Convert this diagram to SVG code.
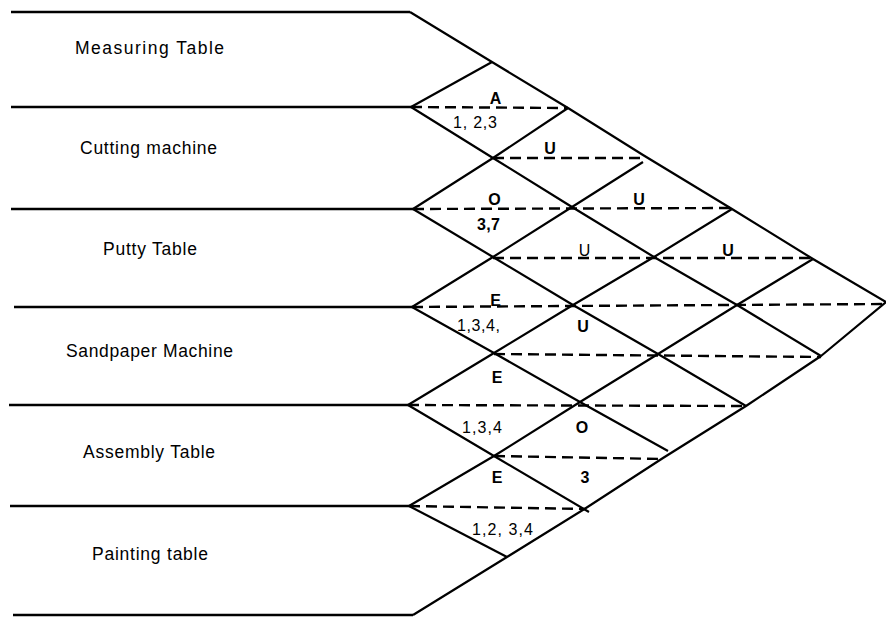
<svg xmlns="http://www.w3.org/2000/svg" width="886" height="617" viewBox="0 0 886 617">
  <style>
    .bar { stroke: #000; stroke-width: 2.6; fill: none; }
    .edge { stroke: #000; stroke-width: 2.2; fill: none; stroke-linejoin: round; }
    .dash { stroke: #000; stroke-width: 2.4; fill: none; stroke-dasharray: 11 6; }
    .dept { font-family: "Liberation Sans", Arial, sans-serif; font-size: 17.5px; fill: #000; text-anchor: middle; }
    .code { font-family: "Liberation Sans", Arial, sans-serif; font-size: 16px; font-weight: bold; fill: #000; text-anchor: middle; }
    .code.plain { font-weight: normal; }
    .why { font-family: "Liberation Sans", Arial, sans-serif; font-size: 16px; fill: #000; text-anchor: middle; }
    .why.b { font-weight: bold; }
  </style>

  <rect width="886" height="617" fill="#fff"/>

  <!-- department rows: separator bars and names -->
  <g id="dept-measuring">
    <line class="bar" x1="11" y1="12" x2="410" y2="12"/>
    <text class="dept" x="149.5" y="53.5" textLength="149" lengthAdjust="spacing">Measuring Table</text>
  </g>
  <g id="dept-cutting">
    <line class="bar" x1="11" y1="107" x2="411" y2="107"/>
    <text class="dept" x="148.5" y="154" textLength="137" lengthAdjust="spacing">Cutting machine</text>
  </g>
  <g id="dept-putty">
    <line class="bar" x1="11" y1="209" x2="413" y2="209"/>
    <text class="dept" x="150" y="255" textLength="94" lengthAdjust="spacing">Putty Table</text>
  </g>
  <g id="dept-sandpaper">
    <line class="bar" x1="14" y1="307" x2="412" y2="307"/>
    <text class="dept" x="149.5" y="357" textLength="167" lengthAdjust="spacing">Sandpaper Machine</text>
  </g>
  <g id="dept-assembly">
    <line class="bar" x1="9" y1="405" x2="408" y2="405"/>
    <text class="dept" x="149" y="458" textLength="132" lengthAdjust="spacing">Assembly Table</text>
  </g>
  <g id="dept-painting">
    <line class="bar" x1="10" y1="506" x2="409" y2="506"/>
    <text class="dept" x="150" y="560" textLength="116" lengthAdjust="spacing">Painting table</text>
    <line class="bar" x1="13" y1="615" x2="413" y2="615"/>
  </g>

  <!-- relationship grid -->
  <g id="connectors">
    <!-- down-right diagonals -->
    <polyline class="edge" points="410,12 492,62 568,108 643,155 732,209 813,259 886,302"/>
    <polyline class="edge" points="411,107 493,158 572,207 654,257 737,305 821,356"/>
    <polyline class="edge" points="413,209 493,257 573,305 658,354 746,406"/>
    <polyline class="edge" points="412,307 494,353 580,402 668,451"/>
    <polyline class="edge" points="408,405 494,456 589,512"/>
    <polyline class="edge" points="409,506 507,557"/>
    <!-- up-right diagonals -->
    <polyline class="edge" points="411,107 492,62"/>
    <polyline class="edge" points="413,209 493,158 568,108"/>
    <polyline class="edge" points="412,307 493,257 572,207 643,162"/>
    <polyline class="edge" points="408,405 494,353 573,305 654,257 732,209"/>
    <polyline class="edge" points="409,506 494,456 580,402 658,354 737,305 813,259"/>
    <polyline class="edge" points="413,615 507,557 586,508 663,458 746,406 821,356 886,302"/>
    <!-- dashed splits between rating and reason -->
    <line class="dash" x1="411" y1="107" x2="568" y2="108"/>
    <line class="dash" x1="493" y1="158" x2="641" y2="158"/>
    <line class="dash" x1="413" y1="209" x2="731" y2="208"/>
    <line class="dash" x1="493" y1="258" x2="811" y2="258"/>
    <line class="dash" x1="412" y1="307" x2="886" y2="304"/>
    <line class="dash" x1="494" y1="354" x2="821" y2="357"/>
    <line class="dash" x1="408" y1="405" x2="747" y2="406"/>
    <line class="dash" x1="494" y1="456" x2="663" y2="459"/>
    <line class="dash" x1="409" y1="506" x2="586" y2="509"/>
  </g>

  <!-- closeness ratings and reason codes -->
  <g id="ratings">
    <text class="code" x="495.5" y="104">A</text>
    <text class="why" x="475" y="128" textLength="44" lengthAdjust="spacing">1, 2,3</text>
    <text class="code" x="550" y="154">U</text>
    <text class="code" x="494.5" y="205">O</text>
    <text class="why b" x="488.5" y="230" textLength="23" lengthAdjust="spacing">3,7</text>
    <text class="code" x="639" y="205">U</text>
    <text class="code plain" x="584.5" y="255.5">U</text>
    <text class="code" x="728" y="256">U</text>
    <text class="code" x="495.5" y="306">E</text>
    <text class="why" x="478.5" y="331" textLength="43" lengthAdjust="spacing">1,3,4,</text>
    <text class="code" x="583" y="332">U</text>
    <text class="code" x="497" y="382.5">E</text>
    <text class="why" x="482" y="433" textLength="40" lengthAdjust="spacing">1,3,4</text>
    <text class="code" x="582" y="433">O</text>
    <text class="code" x="497" y="483">E</text>
    <text class="code" x="585" y="483">3</text>
    <text class="why" x="502.5" y="535" textLength="61" lengthAdjust="spacing">1,2,  3,4</text>
  </g>
</svg>
